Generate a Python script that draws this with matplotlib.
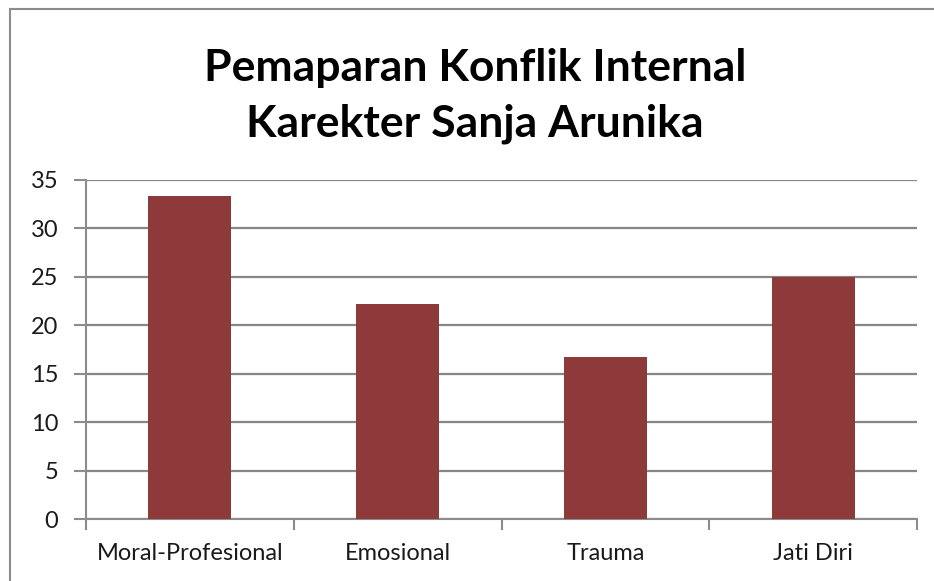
# Pemaparan Konflik Internal - bar chart

import matplotlib.pyplot as plt
from matplotlib.patches import Rectangle

# ------------------------------------------
# Data
# ------------------------------------------

categories = ["Moral-Profesional", "Emosional", "Trauma", "Jati Diri"]
values = [33.3, 22.2, 16.7, 25.0]
y_ticks = [0, 5, 10, 15, 20, 25, 30, 35]

# ------------------------------------------
# Figure
# ------------------------------------------

plt.rcParams["font.family"] = ["Lato", "DejaVu Sans"]

fig = plt.figure(figsize=(9.34, 5.81), dpi=100)

# outer chart frame (cut at right and bottom like the screenshot)
fig.patches.append(
    Rectangle(
        (10 / 934, -0.1), 1.2, 1 - 9 / 581 + 0.1,
        transform=fig.transFigure,
        fill=False, edgecolor="#8c8c8c", linewidth=1.5
    )
)

ax = fig.add_axes([86 / 934, 1 - 519 / 581, (917 - 86) / 934, (519 - 180) / 581])

x = range(len(categories))

ax.bar(x, values, width=0.4, color="#8E3A3A", zorder=3)

ax.set_xlim(-0.5, len(categories) - 0.5)
ax.set_ylim(0, 35)

ax.set_yticks(y_ticks)
ax.set_yticklabels([str(v) for v in y_ticks], fontsize=17, color="#1a1a1a")

# category labels centered, ticks at boundaries
ax.set_xticks(list(x))
ax.set_xticklabels(categories, fontsize=17, color="#1a1a1a")
ax.tick_params(axis="x", length=0, pad=17)
ax.set_xticks([i - 0.5 for i in range(len(categories) + 1)], minor=True)
ax.tick_params(axis="x", which="minor", length=8, width=1.5, color="#8c8c8c")
ax.tick_params(axis="y", length=9, width=1.5, color="#8c8c8c", pad=11)

ax.yaxis.grid(True, color="#868686", linewidth=1.6, zorder=0)

for side in ["top", "right"]:
    ax.spines[side].set_visible(False)
for side in ["left", "bottom"]:
    ax.spines[side].set_color("#8c8c8c")
    ax.spines[side].set_linewidth(1.5)

fig.text(
    475 / 934, 1 - 96 / 581,
    "Pemaparan Konflik Internal\nKarekter Sanja Arunika",
    ha="center", va="center",
    fontsize=32, fontweight="bold", linespacing=1.5
)

fig.savefig("out.png", dpi=100)
